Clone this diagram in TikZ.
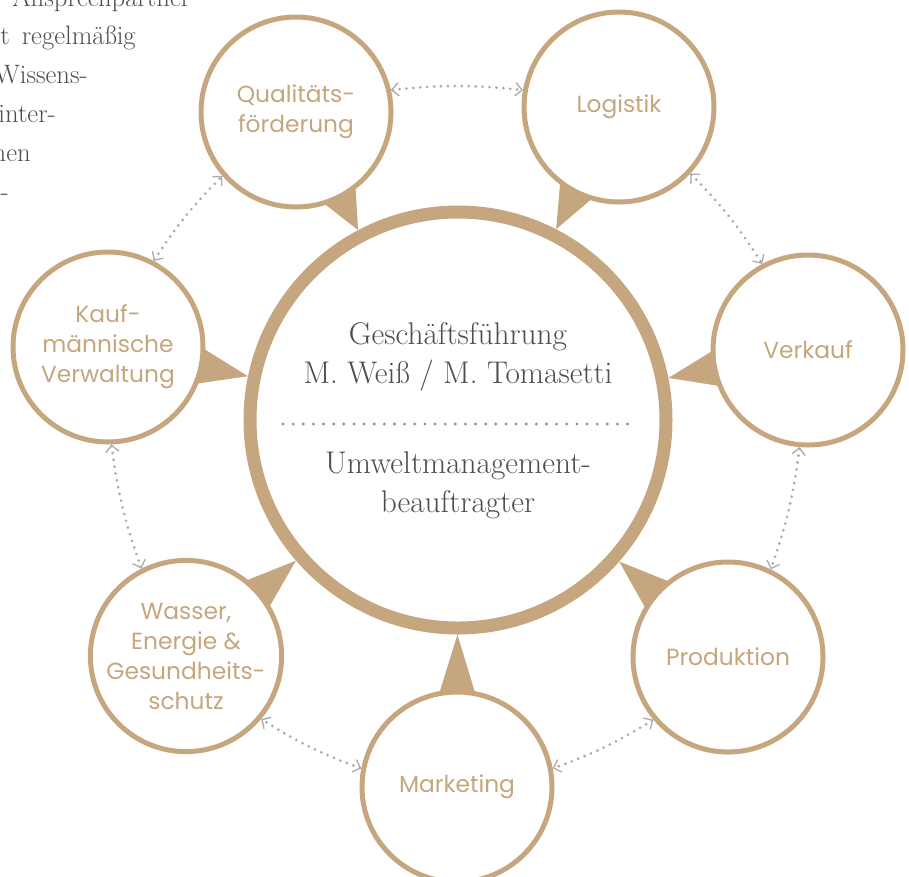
\documentclass[tikz,border=0pt]{standalone}
\usepackage{fontspec}
\newfontfamily\unitfont{Poppins}
\usetikzlibrary{calc,arrows.meta}
\definecolor{sand}{RGB}{197,166,126}
\definecolor{ink}{RGB}{77,77,77}
\definecolor{dotgrey}{RGB}{172,172,172}

\begin{document}
\begin{tikzpicture}[x=0.75pt,y=-0.75pt,line cap=round,line join=round,
    unit/.style={circle,draw=sand,line width=3.75pt,minimum size=142.5pt,
        inner sep=0pt,text=sand,align=center,
        font=\unitfont\fontsize{17.5}{22.5}\selectfont},
    chief/.style={circle,draw=sand,line width=9.75pt,minimum size=312pt,
        inner sep=0pt},
    link/.style={dotgrey,line width=2.3pt,dash pattern=on 0pt off 5.2pt,
        {Straight Barb[length=5pt,width=10pt,line width=1pt]}-%
        {Straight Barb[length=5pt,width=10pt,line width=1pt]},bend left=6},
    body/.style={text=ink,align=center,font=\fontsize{23.5}{29}\selectfont},
    margin/.style={text=ink,inner sep=0pt,anchor=base east,
        font=\fontsize{20}{29}\selectfont}]
    %% Frame of the picture.
    \path[use as bounding box] (0,0) rectangle (909,876);
    \clip (0,0) rectangle (909,876);

    % Cut-off paragraph at the top left.
    \node[margin,anchor=base west] (par1) at (12,6) {Ansprechpartner};
    \node[margin] (par2) at (136,44) {et\hspace{3pt} regelmäßig};
    \node[margin] (par3) at (88,83) {Wissens-};
    \node[margin] (par4) at (56,122) {inter-};
    \node[margin] (par5) at (31,161) {hen};
    \node[margin] (par6) at (9,200) {-};

    % Main ring and the units around it.
    \node[chief] (gf) at (458,420) {};
    \node[unit] (qual) at (296,112) {Qualitäts-\\förderung};
    \node[unit] (logi) at (619,107) {Logistik};
    \node[unit] (verk) at (808,350) {Verkauf};
    \node[unit] (prod) at (728,657) {Produktion};
    \node[unit] (mark) at (457,787) {Marketing};
    \node[unit] (wass) at (186,656) {Wasser,\\Energie \&\\Gesundheits-\\schutz};
    \node[unit] (kauf) at (108,347) {Kauf-\\männische\\Verwaltung};

    % Tails pointing at the main ring.
    \foreach \unit in {qual,logi,verk,prod,mark,wass,kauf} {
        \fill[sand] ($(gf.center)!160.9pt!(\unit.center)$)
            -- ($(\unit.center)!71.25pt!11:(gf.center)$)
            -- ($(\unit.center)!71.25pt!-11:(gf.center)$) -- cycle;
    }

    % Dotted links between neighbours.
    \foreach \from/\fa/\to/\ta in {qual/13/logi/170, logi/317/verk/118,
        verk/265/prod/64, prod/220/mark/11, mark/169/wass/320,
        wass/117/kauf/272, kauf/62/qual/221} {
        \draw[link] (\from.\fa) to (\to.\ta);
    }

    % Text inside the main ring.
    \node[body] (head) at (458,357) {Geschäftsführung\\M. Weiß / M. Tomasetti};
    \node[body] (envi) at (458,485) {Umweltmanagement-\\beauftragter};
    \coordinate (sepl) at (283,424);
    \coordinate (sepr) at (630,424);
    \draw[dotgrey!85!black,line width=2.4pt,dash pattern=on 0pt off 7.6pt]
        (sepl) -- (sepr);
\end{tikzpicture}
\end{document}
